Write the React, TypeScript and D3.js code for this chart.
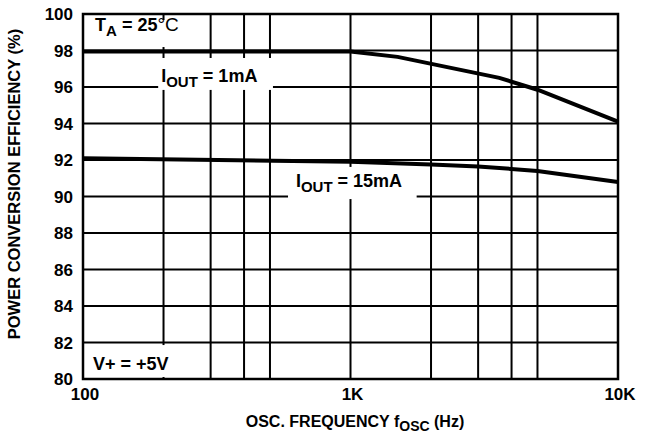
import React from "react";
import * as d3 from "d3";

// efficiency curves
const freq1mA = [100, 1000, 1500, 3600, 5000, 10000];
const eff1mA = [97.95, 97.95, 97.65, 96.5, 95.85, 94.1];
const freq15mA = [100, 1000, 2000, 3000, 5000, 10000];
const eff15mA = [92.1, 91.9, 91.75, 91.65, 91.4, 90.8];

const xGrid = [100, 200, 300, 400, 500, 1000, 2000, 3000, 4000, 5000, 10000];
const xTickValues = [100, 1000, 10000];
const xTickLabels = ["100", "1K", "10K"];
const yTicks = [80, 82, 84, 86, 88, 90, 92, 94, 96, 98, 100];

const FONT = "'Liberation Sans', Arial, Helvetica, sans-serif";

const App = () => {
  const width = 647;
  const height = 437;
  const MARGIN = { top: 14, right: 29, bottom: 58, left: 83 };
  const boundsWidth = width - MARGIN.left - MARGIN.right;
  const boundsHeight = height - MARGIN.top - MARGIN.bottom;

  const xScale = d3.scaleLog().domain([100, 10000]).range([0, boundsWidth]);
  const yScale = d3.scaleLinear().domain([80, 100]).range([boundsHeight, 0]);

  const pathFor = (fs: number[], vs: number[]) =>
    d3
      .line<number>()
      .x((f) => xScale(f))
      .y((_, i) => yScale(vs[i]))(fs) || "";

  // white boxes behind the labels, in data units [f0, f1, v0, v1]
  const boxes = [
    [102, 286, 99.67, 98.19],
    [191, 513, 97.59, 95.84],
    [584, 1767, 91.62, 89.86],
    [100.5, 230, 81.86, 80.11],
  ];
  const rect = (b: number[], i: number) => (
    <rect
      key={i}
      x={xScale(b[0])}
      y={yScale(b[2])}
      width={xScale(b[1]) - xScale(b[0])}
      height={yScale(b[3]) - yScale(b[2])}
      fill="white"
    />
  );

  const labelStyle = { fontFamily: FONT, fontWeight: 700, fontSize: 18 };

  return (
    <svg
      width={width}
      height={height}
      style={{ position: "absolute", left: 0, top: 0, background: "white" }}
    >
      <g transform={`translate(${MARGIN.left},${MARGIN.top})`}>
        {yTicks.map((t) => (
          <line
            key={"h" + t}
            x1={0}
            x2={boundsWidth}
            y1={yScale(t)}
            y2={yScale(t)}
            stroke="black"
            strokeWidth={2}
          />
        ))}
        {xGrid.map((t) => (
          <line
            key={"v" + t}
            x1={xScale(t)}
            x2={xScale(t)}
            y1={0}
            y2={boundsHeight}
            stroke="black"
            strokeWidth={2}
          />
        ))}
        {boxes.map(rect)}
        <rect
          x={0}
          y={0}
          width={boundsWidth}
          height={boundsHeight}
          fill="none"
          stroke="black"
          strokeWidth={2.5}
        />
        <path
          d={pathFor(freq1mA, eff1mA)}
          fill="none"
          stroke="black"
          strokeWidth={4}
        />
        <path
          d={pathFor(freq15mA, eff15mA)}
          fill="none"
          stroke="black"
          strokeWidth={4}
        />

        {/* annotations */}
        <text x={xScale(111)} y={yScale(99.07)} style={labelStyle}>
          T<tspan dy={5} fontSize={15}>A</tspan>
          <tspan dy={-5}> = 25</tspan>
          <tspan fontWeight={400} fontSize={19}>°C</tspan>
        </text>
        <text x={xScale(196)} y={yScale(96.27)} style={labelStyle}>
          I<tspan dy={5} fontSize={15}>OUT</tspan>
          <tspan dy={-5}> = 1mA</tspan>
        </text>
        <text x={xScale(625)} y={yScale(90.52)} style={labelStyle}>
          I<tspan dy={5} fontSize={15}>OUT</tspan>
          <tspan dy={-5}> = 15mA</tspan>
        </text>
        <text x={xScale(109)} y={yScale(80.49)} style={labelStyle}>
          V+ = +5V
        </text>

        {/* y tick labels */}
        {yTicks.map((t) => (
          <text
            key={"yl" + t}
            x={-10}
            y={yScale(t)}
            dy="0.36em"
            textAnchor="end"
            style={{ fontFamily: FONT, fontWeight: 700, fontSize: 17 }}
          >
            {t}
          </text>
        ))}
        {/* x tick labels */}
        {xTickValues.map((t, i) => (
          <text
            key={"xl" + t}
            x={xScale(t) + 2}
            y={boundsHeight + 21}
            textAnchor="middle"
            style={{ fontFamily: FONT, fontWeight: 700, fontSize: 17 }}
          >
            {xTickLabels[i]}
          </text>
        ))}
      </g>

      {/* axis titles */}
      <text
        x={355}
        y={427}
        textAnchor="middle"
        style={{ fontFamily: FONT, fontWeight: 700, fontSize: 16 }}
      >
        OSC. FREQUENCY f<tspan dy={4} fontSize={14}>OSC</tspan>
        <tspan dy={-4}> (Hz)</tspan>
      </text>
      <text
        transform="translate(20,184) rotate(-90)"
        textAnchor="middle"
        style={{ fontFamily: FONT, fontWeight: 700, fontSize: 16.5 }}
      >
        POWER CONVERSION EFFICIENCY (%)
      </text>
    </svg>
  );
};

export default App;
